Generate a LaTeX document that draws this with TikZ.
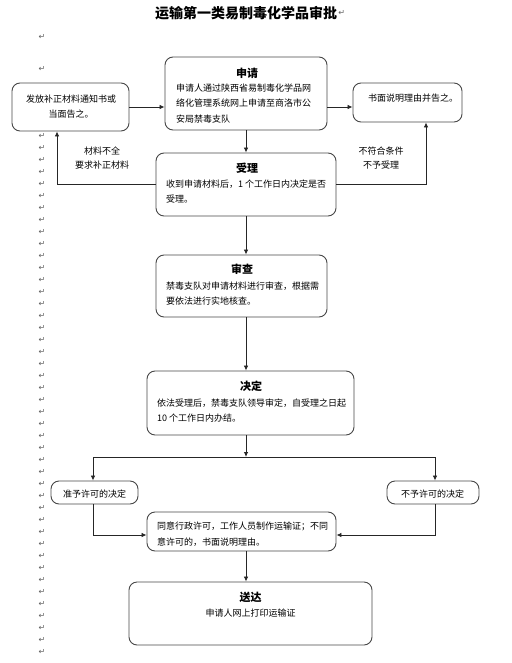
\documentclass[tikz,border=0pt]{standalone}
\usepackage{fontspec}
\setmainfont{Noto Sans CJK SC}
\newfontfamily\symfont{DejaVu Sans}
\usetikzlibrary{arrows.meta}
\begin{document}
\begin{tikzpicture}[x=1pt,y=-1pt,
  box/.style={draw=black!72, line width=0.9pt, rounded corners=8pt, inner sep=0},
  arr/.style={-{Latex[length=5pt,width=4.5pt]}, line width=0.8pt, draw=black!85},
  ln/.style={line width=0.8pt, draw=black!85},
  body/.style={inner sep=0, font=\fontsize{9}{15.5}\selectfont, align=left, anchor=north west},
  lbl/.style={inner sep=0, font=\fontsize{9}{14}\selectfont, align=center},
  ttl/.style={inner sep=0, font=\fontsize{11}{13}\selectfont\bfseries},
  retmark/.style={text=black!62, font=\symfont\fontsize{8}{8}\selectfont, inner sep=0}
]
\useasboundingbox (0,0) rectangle (511,663);

% title
\node[inner sep=0, font=\fontsize{14}{16}\selectfont\bfseries] (title) at (246,13) {运输第一类易制毒化学品审批};
\node[retmark, anchor=west] (rtitle) at ([xshift=1pt]title.east) {↵};

% paragraph marks
\node[retmark] (ra) at (42,37) {↵};
\node[retmark] (rb) at (42,69) {↵};
\foreach \i in {0,...,43}{
  \node[retmark] (r\i) at (42,{136+12*\i}) {↵};
}

% boxes
\node[box, minimum width=162, minimum height=73] (sq) at (246,93.5) {};
\node[box, minimum width=117, minimum height=48] (bz) at (70.5,107) {};
\node[box, minimum width=109, minimum height=39] (sm) at (407.5,102.5) {};
\node[box, minimum width=180, minimum height=63] (sl) at (246,184.5) {};
\node[box, minimum width=171, minimum height=62] (sc) at (241.5,286) {};
\node[box, minimum width=207, minimum height=64] (jd) at (250.5,403) {};
\node[box, minimum width=87, minimum height=23] (zy) at (94.5,492.5) {};
\node[box, minimum width=92, minimum height=23] (by) at (433,492.5) {};
\node[box, minimum width=189, minimum height=39] (ty) at (241.5,531.5) {};
\node[box, minimum width=243, minimum height=63] (sd) at (250.5,613.5) {};

% texts
\node[ttl] (sqt) at (247,73) {申请};
\node[body] (sqb) at (176,83.5) {申请人通过陕西省易制毒化学品网\\络化管理系统网上申请至商洛市公\\安局禁毒支队};
\node[body, anchor=north, align=center] (bzt) at (71,94.5) {发放补正材料通知书或\\当面告之。};
\node[body] (smt) at (368,93.5) {书面说明理由并告之。};
\node[ttl] (slt) at (247,168) {受理};
\node[body, font=\fontsize{9}{15}\selectfont] (slb) at (166,179.5) {收到申请材料后，1 个工作日内决定是否\\受理。};
\node[ttl] (sct) at (242,269) {审查};
\node[body, font=\fontsize{9}{15}\selectfont] (scb) at (166,281.5) {禁毒支队对申请材料进行审查，根据需\\要依法进行实地核查。};
\node[ttl] (jdt) at (251,386) {决定};
\node[body, font=\fontsize{9}{15}\selectfont] (jdb) at (157,398.5) {依法受理后，禁毒支队领导审定，自受理之日起\\10 个工作日内办结。};
\node[body, anchor=west] (zyt) at (63,494) {准予许可的决定};
\node[body, anchor=west] (byt) at (401,494) {不予许可的决定};
\node[body, font=\fontsize{9}{16}\selectfont] (tyb) at (157,521.5) {同意行政许可，工作人员制作运输证；不同\\意许可的，书面说明理由。};
\node[ttl] (sdt) at (250.5,597) {送达};
\node[lbl] (sdb) at (250.5,613) {申请人网上打印运输证};

\node[lbl] (l1) at (102,158) {材料不全\\要求补正材料};
\node[lbl] (l2) at (381,158) {不符合条件\\不予受理};

% coordinates
\coordinate (lc) at (57,184.5);
\coordinate (rc) at (426,184.5);
\coordinate (jn) at (246,457);
\coordinate (jl) at (93,457);
\coordinate (jr) at (435,457);
\coordinate (bl) at (93,535);
\coordinate (br) at (435,535);

% connectors
\draw[arr] (bz.east) -- (bz.east -| sq.west);
\draw[arr] (sq.east |- bz.east) -- (sm.west |- bz.east);
\draw[arr] (sq.south) -- (sl.north);
\draw[arr] (sl.west) -- (lc) -- (lc |- bz.south);
\draw[arr] (sl.east) -- (rc) -- (rc |- sm.south);
\draw[arr] (sl.south) -- (sl.south |- sc.north);
\draw[arr] (sl.south |- sc.south) -- (sl.south |- jd.north);
\draw[arr] (sl.south |- jd.south) -- (jn);
\draw[ln] (jl) -- (jr);
\draw[arr] (jl) -- (jl |- zy.north);
\draw[arr] (jr) -- (jr |- by.north);
\draw[arr] (jl |- zy.south) -- (bl) -- (bl -| ty.west);
\draw[arr] (jr |- by.south) -- (br) -- (br -| ty.east);
\draw[arr] (sl.south |- ty.south) -- (sl.south |- sd.north);
\end{tikzpicture}
\end{document}
